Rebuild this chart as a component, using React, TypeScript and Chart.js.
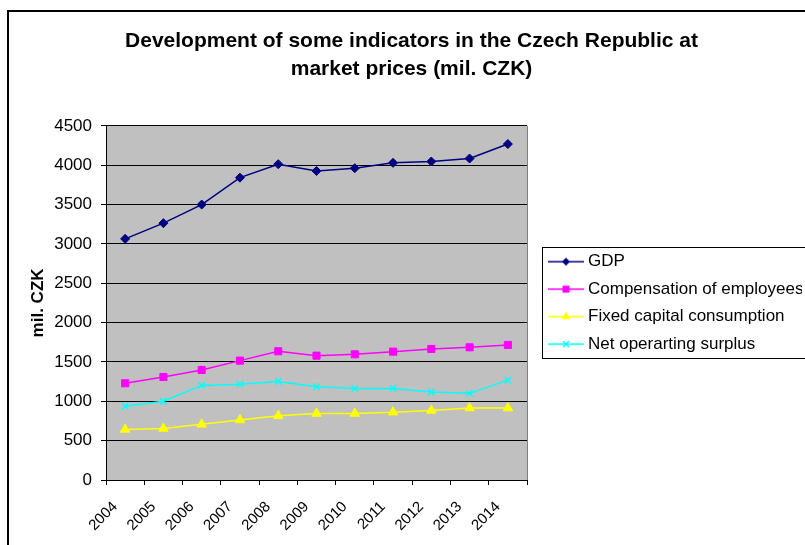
import React, { useEffect, useRef } from "react";
import { Chart, registerables } from "chart.js";

Chart.register(...registerables);

const years = ["2004", "2005", "2006", "2007", "2008", "2009", "2010", "2011", "2012", "2013", "2014"];
const gdp = [3064, 3264, 3500, 3842, 4013, 3927, 3962, 4030, 4047, 4085, 4269];
const compensation = [1229, 1309, 1398, 1517, 1636, 1580, 1597, 1631, 1665, 1686, 1716];
const fixedCapital = [642, 655, 707, 763, 815, 845, 845, 862, 884, 914, 914];
const netSurplus = [937, 1000, 1202, 1218, 1252, 1185, 1164, 1164, 1118, 1101, 1269];

const seriesNames = ["GDP", "Compensation of employees", "Fixed capital consumption", "Net operarting surplus"];
const seriesColors = ["#000080", "#FF00FF", "#FFFF00", "#00FFFF"];
const seriesMarkers = ["rectRot", "rect", "triangle", "crossRot"];
const titleLines = ["Development of some indicators in the Czech Republic at", "market prices (mil. CZK)"];
const yAxisTitle = "mil. CZK";
const yMin = 0;
const yMax = 4500;
const yStep = 500;

const FONT = "Arial, 'Liberation Sans', sans-serif";
const W = 820;
const H = 545;

function makeLegendImg(color: string, style: string): HTMLCanvasElement {
  const c = document.createElement("canvas");
  c.width = 36;
  c.height = 14;
  const ctx = c.getContext("2d")!;
  const cx = 18, cy = 7;
  ctx.strokeStyle = color;
  ctx.fillStyle = color;
  ctx.lineWidth = 1.5;
  ctx.beginPath();
  ctx.moveTo(0, cy);
  ctx.lineTo(36, cy);
  ctx.stroke();
  ctx.beginPath();
  if (style === "rectRot") {
    const r = 4;
    ctx.moveTo(cx, cy - r);
    ctx.lineTo(cx + r, cy);
    ctx.lineTo(cx, cy + r);
    ctx.lineTo(cx - r, cy);
    ctx.closePath();
    ctx.fill();
  } else if (style === "rect") {
    ctx.rect(cx - 3.5, cy - 3.5, 7, 7);
    ctx.fill();
  } else if (style === "triangle") {
    const r = 5;
    ctx.moveTo(cx, cy - r);
    ctx.lineTo(cx + r * 0.866, cy + r * 0.5);
    ctx.lineTo(cx - r * 0.866, cy + r * 0.5);
    ctx.closePath();
    ctx.fill();
  } else {
    const s = 3;
    ctx.lineWidth = 1.5;
    ctx.moveTo(cx - s, cy - s);
    ctx.lineTo(cx + s, cy + s);
    ctx.moveTo(cx + s, cy - s);
    ctx.lineTo(cx - s, cy + s);
    ctx.stroke();
  }
  return c;
}

const framePlugin = {
  id: "frame",
  beforeDraw(chart: any) {
    const { ctx, chartArea } = chart;
    ctx.save();
    ctx.fillStyle = "#FFFFFF";
    ctx.fillRect(0, 0, chart.width, chart.height);
    ctx.fillStyle = "#C0C0C0";
    ctx.fillRect(chartArea.left, chartArea.top, chartArea.right - chartArea.left, chartArea.bottom - chartArea.top);
    ctx.restore();
  },
  afterDraw(chart: any) {
    const { ctx, chartArea } = chart;
    ctx.save();
    ctx.strokeStyle = "#808080";
    ctx.lineWidth = 1;
    ctx.beginPath();
    ctx.moveTo(Math.round(chartArea.right) + 0.5, chartArea.top);
    ctx.lineTo(Math.round(chartArea.right) + 0.5, chartArea.bottom);
    ctx.stroke();
    ctx.strokeStyle = "#000000";
    ctx.lineWidth = 2;
    ctx.strokeRect(8, 11, chart.width + 50, chart.height + 50);
    const lg = chart.legend;
    if (lg && lg.legendHitBoxes && lg.legendHitBoxes.length) {
      const hb = lg.legendHitBoxes;
      const top = Math.round(hb[0].top - 6) + 0.5;
      const bottom = Math.round(hb[hb.length - 1].top + hb[hb.length - 1].height + 5) + 0.5;
      const left = Math.round(lg.left) + 0.5;
      ctx.lineWidth = 1;
      ctx.strokeRect(left, top, chart.width, bottom - top);
    }
    ctx.restore();
  },
};

export default function App() {
  const ref = useRef<HTMLCanvasElement | null>(null);

  useEffect(() => {
    if (!ref.current) return;
    const legendImgs = seriesColors.map((c, i) => makeLegendImg(c, seriesMarkers[i]));
    const values = [gdp, compensation, fixedCapital, netSurplus];
    const radii = [4.5, 5, 5.5, 4.5];
    const chart = new Chart(ref.current, {
      type: "line",
      data: {
        labels: years,
        datasets: values.map((v, i) => ({
          label: seriesNames[i],
          data: v,
          yAxisID: "y",
          borderColor: seriesColors[i],
          backgroundColor: seriesColors[i],
          pointBackgroundColor: seriesColors[i],
          pointBorderColor: seriesColors[i],
          pointStyle: seriesMarkers[i] as any,
          pointRadius: radii[i],
          pointBorderWidth: i === 3 ? 1.5 : 1,
          borderWidth: 1.5,
          tension: 0,
          fill: false,
        })),
      },
      options: {
        responsive: false,
        animation: false,
        devicePixelRatio: 1,
        layout: { padding: { left: 21, right: 18, top: 0, bottom: 0 } },
        plugins: {
          tooltip: { enabled: false },
          title: {
            display: true,
            text: titleLines,
            color: "#000",
            font: { family: FONT, size: 21, weight: "bold", lineHeight: 1.33 },
            padding: { top: 27, bottom: 43 },
          },
          legend: {
            display: true,
            position: "right",
            align: "center",
            fullSize: false,
            maxWidth: 260,
            labels: {
              color: "#000",
              font: { family: FONT, size: 17 },
              padding: 10.5,
              usePointStyle: true,
              pointStyleWidth: 27,
              generateLabels: (c: any) => {
                const items = (Chart.defaults.plugins.legend.labels as any).generateLabels(c);
                return items.map((it: any, i: number) => ({ ...it, pointStyle: legendImgs[i], fontColor: "#000" }));
              },
            },
          },
        },
        scales: {
          x: {
            type: "category",
            offset: true,
            grid: { offset: true, drawOnChartArea: false, color: "#000", tickLength: 5, lineWidth: 1 },
            border: { color: "#000", width: 1 },
            ticks: {
              color: "#000",
              font: { family: FONT, size: 15 },
              minRotation: 45,
              maxRotation: 45,
              autoSkip: false,
              padding: 13,
              labelOffset: -10,
            },
            afterFit: (s: any) => { s.height = 65; },
          },
          y: {
            type: "linear",
            position: "left",
            min: yMin,
            max: yMax,
            grid: { color: "#000", tickLength: 5, lineWidth: 1 },
            border: { color: "#000", width: 1 },
            ticks: {
              stepSize: yStep,
              color: "#000",
              font: { family: FONT, size: 17 },
              padding: 9,
              callback: (v: any) => String(v),
            },
            title: {
              display: true,
              text: yAxisTitle,
              color: "#000",
              font: { family: FONT, size: 17, weight: "bold" },
              padding: { top: 7, bottom: 0 },
            },
            afterFit: (s: any) => { s.width = 85; },
          },
          gap: {
            type: "linear",
            position: "right",
            display: true,
            grid: { display: false },
            border: { display: false },
            ticks: { display: false },
            afterFit: (s: any) => { s.width = 15; },
          },
        },
      } as any,
      plugins: [framePlugin],
    });
    return () => chart.destroy();
  }, []);

  return (
    <div style={{ position: "fixed", left: 0, top: 0, width: 805, height: 545, overflow: "hidden", background: "#fff" }}>
      <canvas ref={ref} width={W} height={H} style={{ width: W, height: H, display: "block" }} />
    </div>
  );
}
